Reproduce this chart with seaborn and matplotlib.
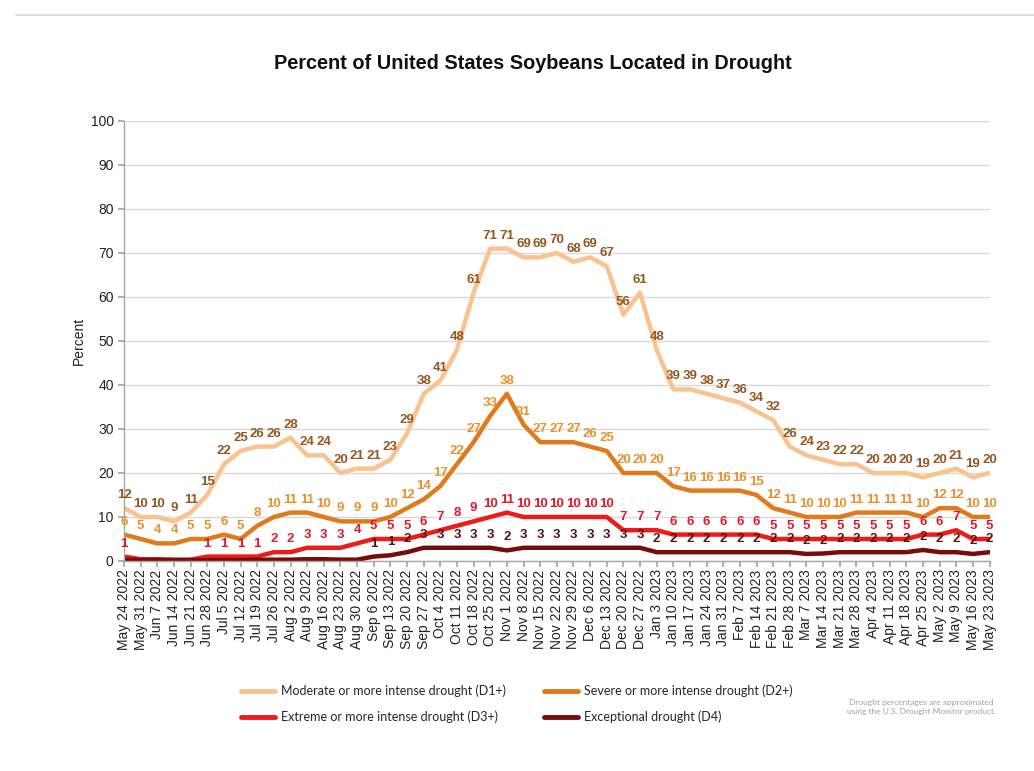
import numpy as np
import pandas as pd
import seaborn as sns
import matplotlib.pyplot as plt
from matplotlib.lines import Line2D

# weekly dates (x axis)
dates = ["May 24 2022", "May 31 2022", "Jun 7 2022", "Jun 14 2022", "Jun 21 2022",
         "Jun 28 2022", "Jul 5 2022", "Jul 12 2022", "Jul 19 2022", "Jul 26 2022",
         "Aug 2 2022", "Aug 9 2022", "Aug 16 2022", "Aug 23 2022", "Aug 30 2022",
         "Sep 6 2022", "Sep 13 2022", "Sep 20 2022", "Sep 27 2022", "Oct 4 2022",
         "Oct 11 2022", "Oct 18 2022", "Oct 25 2022", "Nov 1 2022", "Nov 8 2022",
         "Nov 15 2022", "Nov 22 2022", "Nov 29 2022", "Dec 6 2022", "Dec 13 2022",
         "Dec 20 2022", "Dec 27 2022", "Jan 3 2023", "Jan 10 2023", "Jan 17 2023",
         "Jan 24 2023", "Jan 31 2023", "Feb 7 2023", "Feb 14 2023", "Feb 21 2023",
         "Feb 28 2023", "Mar 7 2023", "Mar 14 2023", "Mar 21 2023", "Mar 28 2023",
         "Apr 4 2023", "Apr 11 2023", "Apr 18 2023", "Apr 25 2023", "May 2 2023",
         "May 9 2023", "May 16 2023", "May 23 2023"]

d1 = [12, 10, 10, 9, 11, 15, 22, 25, 26, 26, 28, 24, 24, 20, 21, 21, 23, 29, 38, 41,
      48, 61, 71, 71, 69, 69, 70, 68, 69, 67, 56, 61, 48, 39, 39, 38, 37, 36, 34, 32,
      26, 24, 23, 22, 22, 20, 20, 20, 19, 20, 21, 19, 20]
d2 = [6, 5, 4, 4, 5, 5, 6, 5, 8, 10, 11, 11, 10, 9, 9, 9, 10, 12, 14, 17,
      22, 27, 33, 38, 31, 27, 27, 27, 26, 25, 20, 20, 20, 17, 16, 16, 16, 16, 15, 12,
      11, 10, 10, 10, 11, 11, 11, 11, 10, 12, 12, 10, 10]
d3 = [1, 0.4, 0.4, 0.3, 0.3, 1, 1, 1, 1, 2, 2, 3, 3, 3, 4, 5, 5, 5, 6, 7,
      8, 9, 10, 11, 10, 10, 10, 10, 10, 10, 7, 7, 7, 6, 6, 6, 6, 6, 6, 5,
      5, 5, 5, 5, 5, 5, 5, 5, 6, 6, 7, 5, 5]
d4 = [0.3, 0.2, 0.2, 0.2, 0.2, 0.2, 0.2, 0.2, 0.3, 0.3, 0.3, 0.4, 0.4, 0.3, 0.3, 1, 1.3, 2, 3, 3,
      3, 3, 3, 2.4, 3, 3, 3, 3, 3, 3, 3, 3, 2, 2, 2, 2, 2, 2, 2, 2,
      2, 1.6, 1.7, 2, 2, 2, 2, 2, 2.5, 2, 2, 1.6, 2]

names = ["Moderate or more intense drought (D1+)", "Severe or more intense drought (D2+)",
         "Extreme or more intense drought (D3+)", "Exceptional drought (D4)"]
line_colors = ["#F9C28F", "#E07A1C", "#EE1B1B", "#7A0B0B"]
label_colors = ["#94571F", "#E8912F", "#E3172A", "#5E1111"]

df = pd.DataFrame({"week": np.arange(len(dates))})
for n, s in zip(names, [d1, d2, d3, d4]):
    df[n] = s
long = df.melt(id_vars="week", var_name="series", value_name="pct")

sns.set_theme(style="white")
plt.rcParams['font.family'] = ['Liberation Sans', 'DejaVu Sans']

fig = plt.figure(figsize=(10.34, 7.71), dpi=100)
ax = fig.add_axes([0.12, 0.2724, 0.837, 0.5707])

sns.lineplot(data=long, x="week", y="pct", hue="series", hue_order=names,
             palette=line_colors, linewidth=3.2, ax=ax, legend=False, sort=False)

# data labels
for s, c in zip([d1, d2, d3, d4], label_colors):
    for i, v in enumerate(s):
        r = int(round(v))
        if r < 1:
            continue
        ax.annotate(str(r), (i, v), xytext=(0, 5), textcoords="offset points",
                    ha="center", va="bottom", fontsize=9.5, fontweight="bold",
                    color=c)

ax.set_xlim(0, len(dates) - 1)
ax.set_ylim(0, 100)
ax.set_yticks(range(0, 101, 10))
ax.set_xticks(range(len(dates)))
ax.set_xticklabels(dates, rotation=90, fontsize=10, color="#222222")
ax.tick_params(axis="y", labelsize=10, labelcolor="#222222", length=4, color="#A6A6A6",
               left=True, direction="out")
ax.tick_params(axis="x", length=4, color="#A6A6A6", bottom=True, direction="out", pad=2)
ax.yaxis.grid(True, color="#D9D9D9", linewidth=1)
ax.set_axisbelow(True)
for sp in ["top", "right"]:
    ax.spines[sp].set_visible(False)
for sp in ["left", "bottom"]:
    ax.spines[sp].set_color("#A6A6A6")
    ax.spines[sp].set_linewidth(1)
ax.set_xlabel("")
ax.set_ylabel("Percent", fontsize=10, color="#222222", labelpad=3)

fig.text(0.515, 0.918, "Percent of United States Soybeans Located in Drought",
         ha="center", va="center", fontsize=14.3, fontweight="bold", color="#111111")

handles = [Line2D([0], [0], color=c, lw=3.5) for c in line_colors]
order = [0, 2, 1, 3]
fig.legend([handles[i] for i in order], [names[i] for i in order], ncol=2,
           loc="center", bbox_to_anchor=(0.5, 0.087), frameon=False,
           handlelength=2.7, handletextpad=0.5, columnspacing=3.0, labelspacing=1.1,
           prop={"family": ["Lato", "DejaVu Sans"], "size": 9})

fig.text(0.891, 0.083, "Drought percentages are approximated\nusing the U.S. Drought Monitor product.",
         ha="center", va="center", fontsize=6, color="#A0A0A0", linespacing=1.2,
         family=["Lato", "DejaVu Sans"])

fig.add_artist(Line2D([0.015, 1.0], [0.981, 0.981], color="#D4D4D4", lw=1.2,
                      transform=fig.transFigure))

fig.savefig("out.png", dpi=100)
